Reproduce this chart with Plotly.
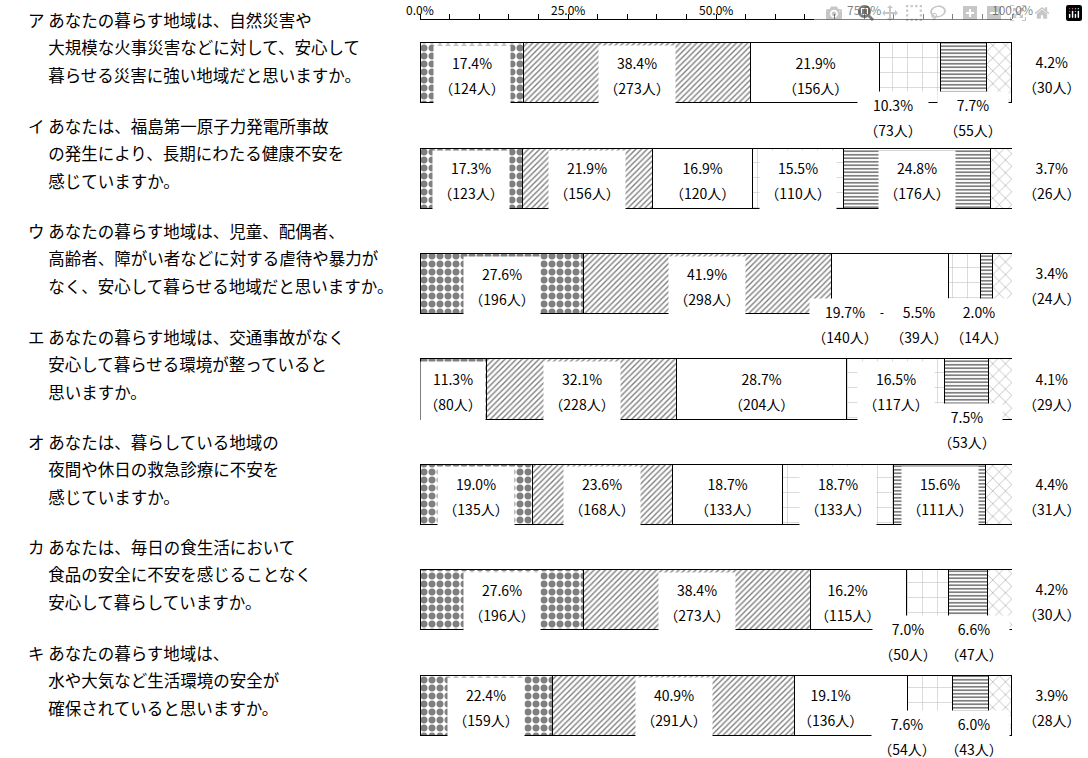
import plotly.graph_objects as go

FONT = "Noto Sans CJK JP"

# 設問
questions = ["ア", "イ", "ウ", "エ", "オ", "カ", "キ"]
question_text = [
    ["あなたの暮らす地域は、自然災害や", "大規模な火事災害などに対して、安心して", "暮らせる災害に強い地域だと思いますか。"],
    ["あなたは、福島第一原子力発電所事故", "の発生により、長期にわたる健康不安を", "感じていますか。"],
    ["あなたの暮らす地域は、児童、配偶者、", "高齢者、障がい者などに対する虐待や暴力が", "なく、安心して暮らせる地域だと思いますか。"],
    ["あなたの暮らす地域は、交通事故がなく", "安心して暮らせる環境が整っていると", "思いますか。"],
    ["あなたは、暮らしている地域の", "夜間や休日の救急診療に不安を", "感じていますか。"],
    ["あなたは、毎日の食生活において", "食品の安全に不安を感じることなく", "安心して暮らしていますか。"],
    ["あなたの暮らす地域は、", "水や大気など生活環境の安全が", "確保されていると思いますか。"],
]

# 割合（%）
pct_1 = [17.4, 17.3, 27.6, 11.3, 19.0, 27.6, 22.4]
pct_2 = [38.4, 21.9, 41.9, 32.1, 23.6, 38.4, 40.9]
pct_3 = [21.9, 16.9, 19.7, 28.7, 18.7, 16.2, 19.1]
pct_4 = [10.3, 15.5, 5.5, 16.5, 18.7, 7.0, 7.6]
pct_5 = [7.7, 24.8, 2.0, 7.5, 15.6, 6.6, 6.0]
pct_6 = [4.2, 3.7, 3.4, 4.1, 4.4, 4.2, 3.9]

# 人数
n_1 = [124, 123, 196, 80, 135, 196, 159]
n_2 = [273, 156, 298, 228, 168, 273, 291]
n_3 = [156, 120, 140, 204, 133, 115, 136]
n_4 = [73, 110, 39, 117, 133, 50, 54]
n_5 = [55, 176, 14, 53, 111, 47, 43]
n_6 = [30, 26, 24, 29, 31, 30, 28]

axis_ticks = [0, 25, 50, 75, 100]

pcts = [pct_1, pct_2, pct_3, pct_4, pct_5, pct_6]
counts = [n_1, n_2, n_3, n_4, n_5, n_6]

patterns = [
    dict(shape=".", fgcolor="black", bgcolor="white", size=8, solidity=0.6),
    dict(shape="/", fgcolor="black", bgcolor="white", size=4, solidity=0.35),
    dict(shape="", bgcolor="white"),
    dict(shape="+", fgcolor="#888888", bgcolor="white", size=15, solidity=0.08),
    dict(shape="-", fgcolor="black", bgcolor="white", size=3.5, solidity=0.5),
    dict(shape="x", fgcolor="#333333", bgcolor="white", size=9, solidity=0.12),
]

# ラベルの置き方: (行, 区分) -> ("out", 横ずれpx, 下へのずれpx) / ("in", 横ずれpx)
label_place = {
    (0, 3): ("out", -17, 32), (0, 4): ("out", 9, 32),
    (2, 2): ("out", -45, 28), (2, 3): ("out", -45, 28), (2, 4): ("out", -8, 28),
    (3, 4): ("out", 0, 28),
    (5, 2): ("in", -11), (5, 3): ("out", -19, 29), (5, 4): ("out", 6, 29),
    (6, 2): ("in", -21), (6, 3): ("out", -23, 19), (6, 4): ("out", 3, 19),
}

fig = go.Figure()
for k in range(6):
    fig.add_trace(go.Bar(
        x=pcts[k], y=questions, orientation="h",
        marker=dict(color="white", pattern=patterns[k], line=dict(color="black", width=1)),
        hoverinfo="skip", showlegend=False,
    ))


def label(p, n):
    return (f"<span style='font-size:14px'>{p:.1f}%</span><br>"
            f"<span style='font-size:14px'>（{n}人）</span>")


annotations = []
for i, q in enumerate(questions):
    start = 0.0
    for k in range(6):
        p = pcts[k][i]
        n = counts[k][i]
        mid = start + p / 2
        start += p
        base = dict(text=label(p, n), y=q, xref="x", yref="y", showarrow=False,
                    font=dict(family=FONT, size=19.2, color="black"))
        if k == 5:
            annotations.append(dict(base, x=100, xshift=40, yshift=-2))
            continue
        place = label_place.get((i, k), ("in", 0))
        if place[0] == "in":
            a = dict(base, x=mid, xshift=place[1], yshift=-2.5)
            if k != 2:
                a.update(bgcolor="white", width=74 if n >= 100 else 62, height=57)
            annotations.append(a)
        else:
            annotations.append(dict(base, x=mid, xshift=place[1], yshift=-(place[2] + 12.5),
                                    bgcolor="white", width=64, borderpad=3))
    # 設問文（記号＋3行を1つの注釈に）
    lines = [q + "\u00a0" + question_text[i][0]] + ["\u3000\u00a0" + t for t in question_text[i][1:]]
    body = "<br>".join(f"<span style='font-size:16.5px'>{t}</span>" for t in lines)
    annotations.append(dict(text=body, x=0, xref="paper", xanchor="left", align="left",
                            xshift=-394, y=q, yref="y", yshift=25, showarrow=False,
                            font=dict(family=FONT, size=21.15, color="black")))

# 目盛ラベル
for t in axis_ticks:
    annotations.append(dict(text=f"{t:.1f}%", x=t, xref="x", y=1, yref="paper",
                            yanchor="middle", yshift=11, showarrow=False, borderpad=0,
                            font=dict(family=FONT, size=12, color="black")))

fig.update_layout(
    width=1088, height=758,
    margin=dict(l=420, r=76, t=20, b=0, autoexpand=False),
    barmode="stack", bargap=0.43,
    paper_bgcolor="white", plot_bgcolor="white",
    font=dict(family=FONT, size=14, color="black"),
    annotations=annotations,
    xaxis=dict(
        range=[0, 100], side="top", dtick=25, showticklabels=False,
        showgrid=False, zeroline=False, showline=True, linecolor="black", linewidth=1,
        ticks="outside", ticklen=5, tickcolor="black", automargin=False,
        minor=dict(tickmode="linear", tick0=0, dtick=5, ticks="outside", ticklen=5,
                   tickcolor="black", showgrid=False),
    ),
    xaxis2=dict(
        range=[0, 100], overlaying="x", side="top", anchor="y", dtick=25,
        ticks="inside", ticklen=4, tickcolor="black", showticklabels=False,
        showgrid=False, zeroline=False, showline=False, automargin=False,
    ),
    yaxis=dict(
        categoryorder="array", categoryarray=questions, range=[6.5, -0.5],
        showticklabels=False, showgrid=False, zeroline=False, showline=False,
        automargin=False,
    ),
)

# ページ既定の余白(8px)を消して、図を窓の左上にそろえる
fig.write_html("out.html", post_script="document.body.style.margin = '0';")
